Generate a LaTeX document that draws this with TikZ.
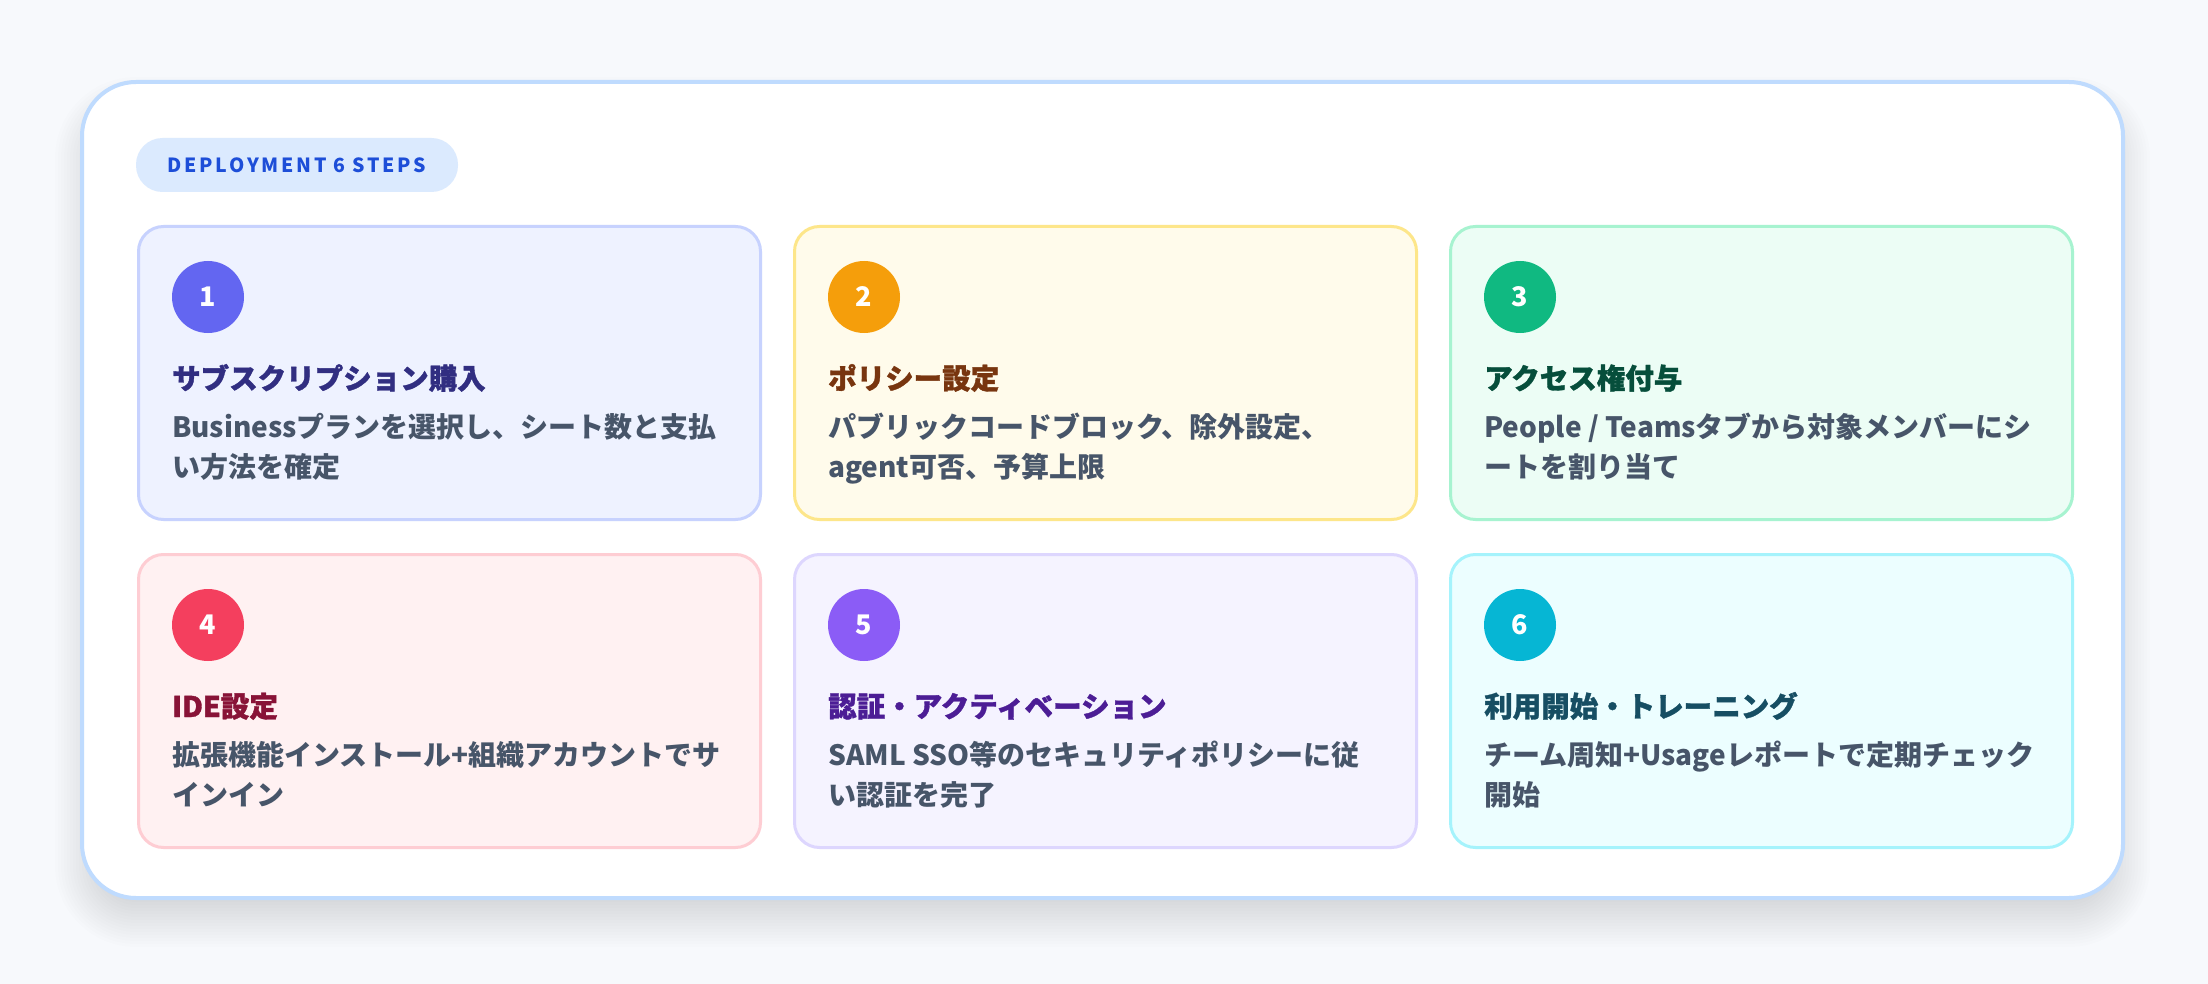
\documentclass[tikz,border=0pt]{standalone}
\usepackage{fontspec}
\newfontfamily\jp{Noto Sans CJK JP}
\newfontfamily\jpt{Noto Sans CJK JP}[BoldFeatures={FakeBold=1.2}]
\newfontfamily\pillf{Noto Sans CJK JP}[LetterSpace=14]
\definecolor{bgc}{HTML}{F7F9FC}
\definecolor{outerline}{HTML}{BFDBFE}
\definecolor{pillfill}{HTML}{DBEAFE}
\definecolor{pilltext}{HTML}{1D4ED8}
\definecolor{desc}{HTML}{475569}
\definecolor{aFill}{HTML}{EEF2FF}\definecolor{aLine}{HTML}{C7D2FE}\definecolor{aDot}{HTML}{6366F1}\definecolor{aTitle}{HTML}{312E81}
\definecolor{bFill}{HTML}{FFFBEB}\definecolor{bLine}{HTML}{FDE68A}\definecolor{bDot}{HTML}{F59E0B}\definecolor{bTitle}{HTML}{78350F}
\definecolor{cFill}{HTML}{ECFDF5}\definecolor{cLine}{HTML}{A7F3D0}\definecolor{cDot}{HTML}{10B981}\definecolor{cTitle}{HTML}{064E3B}
\definecolor{dFill}{HTML}{FFF1F2}\definecolor{dLine}{HTML}{FECDD3}\definecolor{dDot}{HTML}{F43F5E}\definecolor{dTitle}{HTML}{881337}
\definecolor{eFill}{HTML}{F5F3FF}\definecolor{eLine}{HTML}{DDD6FE}\definecolor{eDot}{HTML}{8B5CF6}\definecolor{eTitle}{HTML}{4C1D95}
\definecolor{fFill}{HTML}{ECFEFF}\definecolor{fLine}{HTML}{A5F3FC}\definecolor{fDot}{HTML}{06B6D4}\definecolor{fTitle}{HTML}{164E63}
\tikzset{
  cardbox/.style={rectangle, rounded corners=25pt, line width=3pt, minimum width=622pt, minimum height=293pt, inner sep=0pt, anchor=north west},
  numdot/.style={circle, minimum size=72pt, inner sep=0pt, text=white, font=\jp\bfseries\fontsize{27}{27}\selectfont},
  titletext/.style={inner sep=0pt, anchor=base west, font=\jpt\bfseries\fontsize{28.5}{28.5}\selectfont},
  desctext/.style={inner sep=0pt, anchor=base west, text=desc, font=\jp\bfseries\fontsize{28}{28}\selectfont},
  pillbox/.style={rectangle, rounded corners=26.5pt, fill=pillfill, minimum width=322pt, minimum height=54pt, inner sep=0pt, text=pilltext, font=\pillf\bfseries\fontsize{19.5}{19.5}\selectfont}
}
\newcommand\mkcard[8]{%
  \node[cardbox, fill=#4Fill, draw=#4Line] (card#1) at (#2,#3) {};
  \node[numdot, fill=#4Dot] (num#1) at ({#2+71},{#3+72}) {#5};
  \node[titletext, text=#4Title] (title#1) at ({#2+35},{#3+164}) {#6};
  \node[desctext] (desc#1a) at ({#2+35},{#3+212}) {#7};
  \node[desctext] (desc#1b) at ({#2+35},{#3+252}) {#8};
}
\begin{document}
\begin{tikzpicture}[x=1pt,y=-1pt]
\fill[bgc] (0,0) rectangle (2208,984);
\useasboundingbox (0,0) rectangle (2208,984);
% soft shadow
\foreach \e in {-24,-21,...,27} {
  \pgfmathsetmacro\rr{max(8,54+\e)}
  \fill[black!70!blue, opacity=0.009, rounded corners=\rr pt] ({82-\e},{82+22-\e}) rectangle ({2123+\e},{898+22+\e});
}
\draw[line width=4pt, draw=outerline, fill=white, rounded corners=54pt] (82,82) rectangle (2123,898);
\node[pillbox] (tag) at (297,165) {DEPLOYMENT 6 STEPS};
\mkcard{1}{137}{225}{a}{1}{サブスクリプション購入}{Businessプランを選択し、シート数と支払}{い方法を確定}
\mkcard{2}{793}{225}{b}{2}{ポリシー設定}{パブリックコードブロック、除外設定、}{agent可否、予算上限}
\mkcard{3}{1449}{225}{c}{3}{アクセス権付与}{People / Teamsタブから対象メンバーにシ}{ートを割り当て}
\mkcard{4}{137}{553}{d}{4}{IDE設定}{拡張機能インストール+組織アカウントでサ}{インイン}
\mkcard{5}{793}{553}{e}{5}{認証・アクティベーション}{SAML SSO等のセキュリティポリシーに従}{い認証を完了}
\mkcard{6}{1449}{553}{f}{6}{利用開始・トレーニング}{チーム周知+Usageレポートで定期チェック}{開始}
\end{tikzpicture}
\end{document}
